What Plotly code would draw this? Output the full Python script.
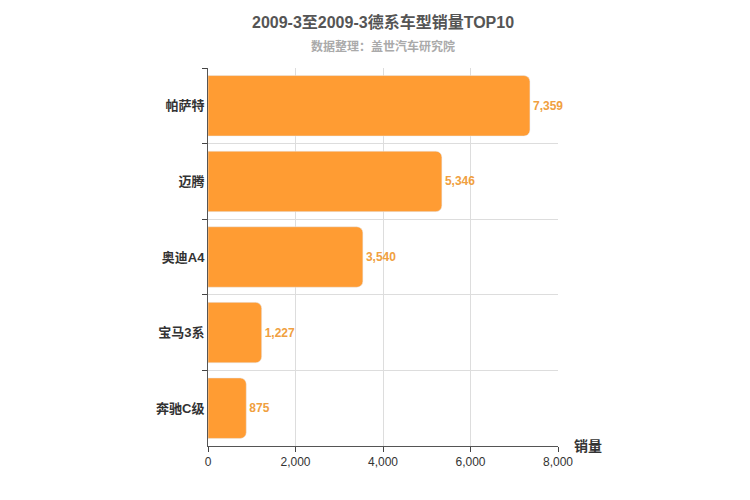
import plotly.graph_objects as go

models = ["帕萨特", "迈腾", "奥迪A4", "宝马3系", "奔驰C级"]
sales = [7359, 5346, 3540, 1227, 875]

fig = go.Figure(
    go.Bar(
        x=sales,
        y=[f"<b>{m}</b>" for m in models],
        orientation="h",
        marker={"color": "#FF9C33", "cornerradius": 6},
        width=0.8,
        text=[f"<b>{v:,}</b>" for v in sales],
        textposition="outside",
        textfont={"color": "#F0A040", "size": 12},
        cliponaxis=False,
    )
)

fig.update_layout(
    font={"family": "Liberation Sans, Noto Sans CJK SC", "color": "#333333"},
    xaxis={
        "range": [0, 8000],
        "dtick": 2000,
        "tickformat": ",",
        "showgrid": True,
        "gridcolor": "#DDDDDD",
        "showline": True,
        "linecolor": "#555555",
        "ticks": "outside",
        "ticklen": 5,
        "zeroline": False,
        "tickfont": {"size": 12},
        "automargin": False,
    },
    yaxis={
        "autorange": "reversed",
        "showline": True,
        "linecolor": "#555555",
        "ticks": "outside",
        "tickson": "boundaries",
        "ticklen": 5,
        "showgrid": True,
        "gridcolor": "#DDDDDD",
        "tickfont": {"size": 13, "color": "#333333"},
        "automargin": False,
    },
    plot_bgcolor="white",
    paper_bgcolor="white",
    width=750,
    height=500,
    margin={"l": 200, "r": 200, "t": 60, "b": 62},
    showlegend=False,
)

fig.add_annotation(
    x=0.5, xref="paper", y=13, yref="paper", yanchor="middle", yshift=0,
    text="<b>2009-3至2009-3德系车型销量TOP10</b>", showarrow=False,
    font={"size": 16, "color": "#555555"},
)
fig.add_annotation(
    x=375, xref="paper", y=0, yref="paper", showarrow=False,
    text="",
)
fig.layout.annotations = []
fig.add_annotation(
    x=0.5, xref="paper", y=1, yref="paper", yanchor="middle", yshift=46,
    text="<b>2009-3至2009-3德系车型销量TOP10</b>", showarrow=False,
    font={"size": 16, "color": "#555555"},
)
fig.add_annotation(
    x=0.5, xref="paper", y=1, yref="paper", yanchor="middle", yshift=22,
    text="<b>数据整理：盖世汽车研究院</b>", showarrow=False,
    font={"size": 12, "color": "#AAAAAA"},
)
fig.add_annotation(
    x=1, xref="paper", y=0, yref="paper",
    text="<b>销量</b>", showarrow=False,
    xanchor="left", yanchor="middle", xshift=14,
    font={"size": 14, "color": "#333333"},
)

fig.write_html("out.html")
